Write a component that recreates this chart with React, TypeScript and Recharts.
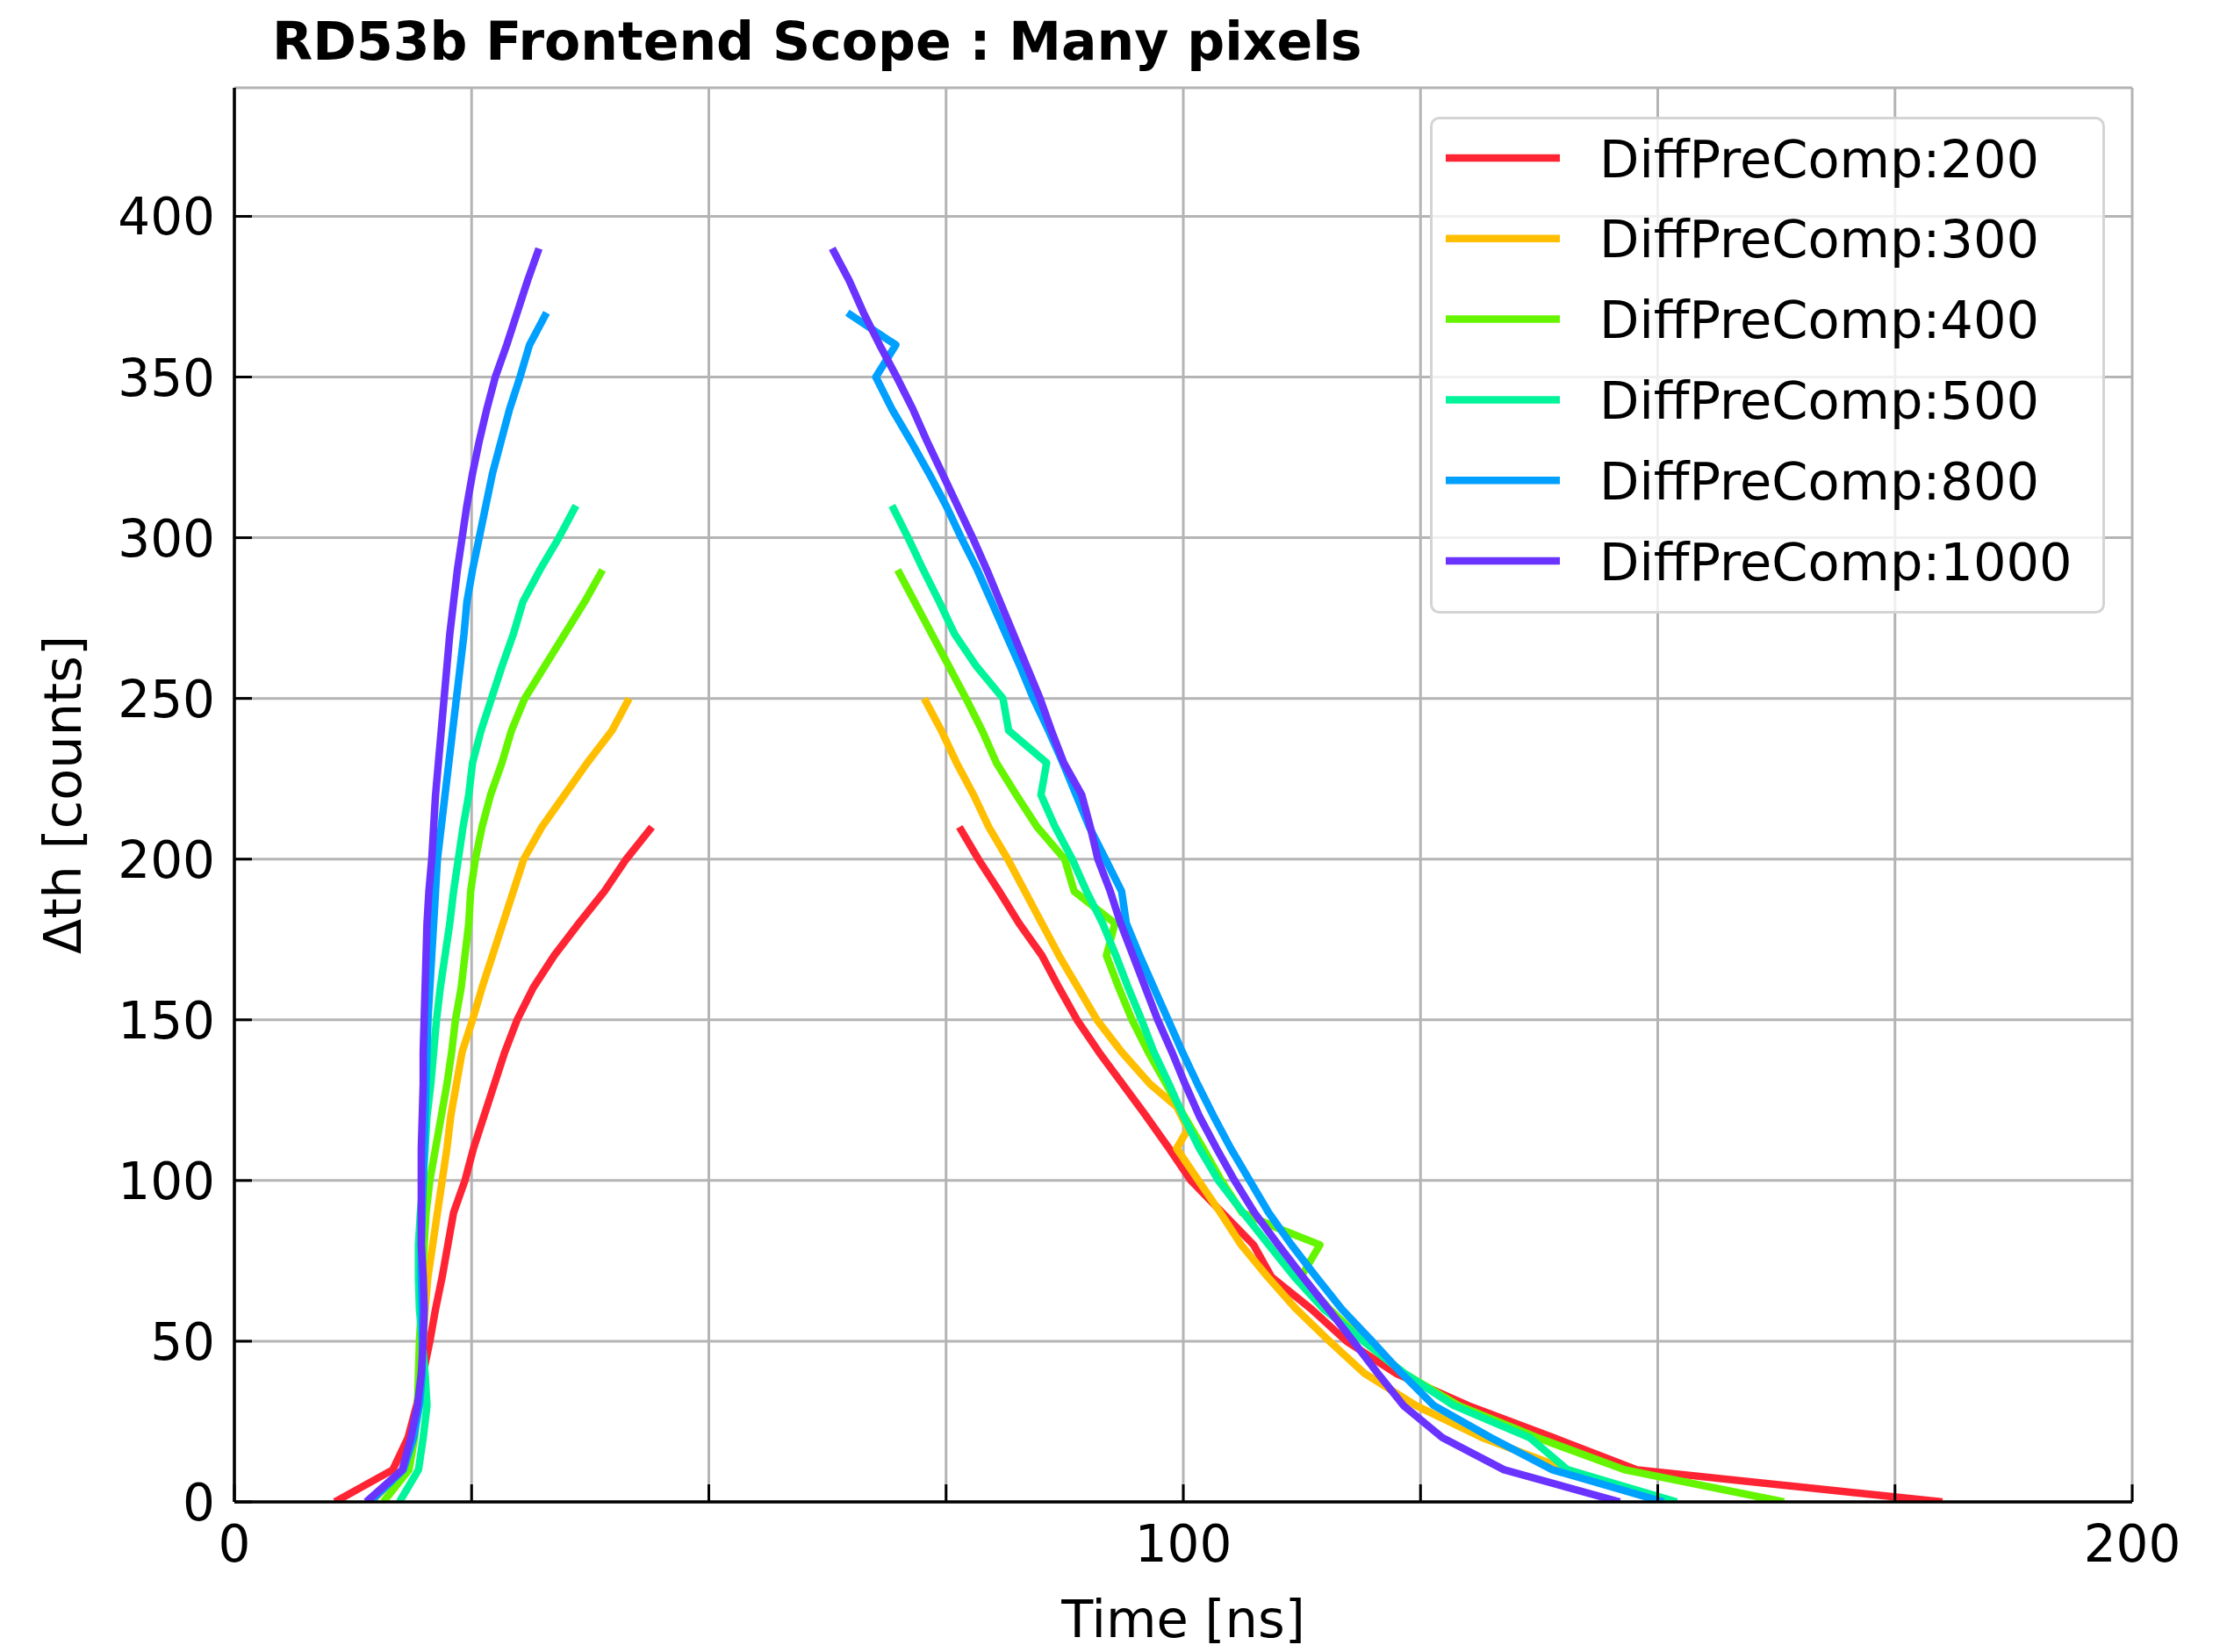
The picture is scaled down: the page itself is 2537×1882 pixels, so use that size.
import React from 'react';
import { LineChart, Line, XAxis, YAxis, CartesianGrid, Legend } from 'recharts';

// ---------- data (time [ns], delta-threshold [counts]) ----------
type Pt = [number, number];

const xTicks = [0, 25, 50, 75, 100, 125, 150, 175, 200];
const xTickLabels = [0, 100, 200];
const yTicks = [0, 50, 100, 150, 200, 250, 300, 350, 400];
const xDomain: [number, number] = [0, 200];
const yDomain: [number, number] = [0, 440];

const seriesNames = [
  'DiffPreComp:200',
  'DiffPreComp:300',
  'DiffPreComp:400',
  'DiffPreComp:500',
  'DiffPreComp:800',
  'DiffPreComp:1000',
];
const seriesColors = ['#ff2433', '#ffbf00', '#66f500', '#00f59a', '#00a0ff', '#6a33ff'];

const rise200: Pt[] = [[10.6,0],[16.7,10],[18.3,20],[19.2,30],[19.9,40],[20.6,50],[21.2,60],[21.9,70],[22.5,80],[23.1,90],[24.3,100],[25.2,110],[26.3,120],[27.4,130],[28.5,140],[29.8,150],[31.5,160],[33.7,170],[36.3,180],[39.0,190],[41.3,200],[44.0,210]];
const fall200: Pt[] = [[76.4,210],[78.4,200],[80.6,190],[82.7,180],[85.1,170],[86.9,160],[88.8,150],[91.1,140],[93.6,130],[96.1,120],[98.5,110],[100.8,100],[104.1,90],[107.4,80],[109.3,70],[113.5,60],[117.2,50],[122.4,40],[130.0,30],[139.0,20],[147.8,10],[180.0,0]];

const rise300: Pt[] = [[14.4,0],[17.8,10],[18.9,20],[19.4,30],[19.7,40],[19.9,50],[20.1,60],[20.4,70],[20.9,80],[21.4,90],[21.9,100],[22.4,110],[22.8,120],[23.4,130],[24.0,140],[25.1,150],[26.1,160],[27.2,170],[28.3,180],[29.4,190],[30.5,200],[32.4,210],[34.8,220],[37.2,230],[39.8,240],[41.6,250]];
const fall300: Pt[] = [[72.7,250],[74.5,240],[76.1,230],[77.9,220],[79.5,210],[81.5,200],[83.3,190],[85.1,180],[86.9,170],[88.9,160],[90.9,150],[93.5,140],[96.5,130],[99.3,123],[100.5,116],[99.3,110],[101.6,100],[103.9,90],[106.1,80],[108.9,70],[111.9,60],[115.4,50],[119.1,40],[124.5,30],[131.5,20],[140.5,10],[151.5,0]];

const rise400: Pt[] = [[15.7,0],[18.4,10],[19.0,20],[19.3,30],[19.4,40],[19.5,50],[19.7,60],[19.8,70],[20.0,80],[20.2,90],[20.6,100],[21.2,110],[21.8,120],[22.4,130],[22.9,140],[23.3,150],[23.9,160],[24.3,170],[24.7,180],[24.9,190],[25.4,200],[26.1,210],[27.0,220],[28.2,230],[29.2,240],[30.6,250],[32.7,260],[34.8,270],[36.9,280],[38.8,290]];
const fall400: Pt[] = [[69.9,290],[71.7,280],[73.5,270],[75.3,260],[77.1,250],[78.8,240],[80.3,230],[82.4,220],[84.6,210],[87.5,200],[88.5,190],[92.8,180],[91.9,170],[93.2,160],[94.6,150],[96.3,140],[98.2,130],[100.1,120],[102.1,110],[104.0,100],[106.2,90],[110.1,85],[114.4,80],[112.4,70],[115.4,60],[119.0,50],[123.3,40],[129.0,30],[137.3,20],[146.5,10],[163.3,0]];

const rise500: Pt[] = [[17.4,0],[19.4,10],[19.9,20],[20.3,30],[20.1,40],[19.8,50],[19.5,60],[19.4,70],[19.4,80],[19.6,90],[19.9,100],[20.1,110],[20.3,120],[20.7,130],[21.0,140],[21.3,150],[21.7,160],[22.2,170],[22.7,180],[23.1,190],[23.6,200],[24.1,210],[24.7,220],[25.1,230],[26.0,240],[27.1,250],[28.2,260],[29.4,270],[30.4,280],[32.2,290],[34.2,300],[36.0,310]];
const fall500: Pt[] = [[69.3,310],[71.0,300],[72.6,290],[74.3,280],[75.9,270],[78.2,260],[81.0,250],[81.6,240],[85.6,230],[85.0,220],[86.5,210],[88.3,200],[89.8,190],[91.5,180],[92.9,170],[94.2,160],[95.6,150],[96.9,140],[98.5,130],[100.0,120],[101.7,110],[103.7,100],[106.3,90],[109.0,80],[111.7,70],[114.8,60],[119.0,50],[123.3,40],[128.5,30],[136.5,20],[140.5,10],[152.0,0]];

const rise800: Pt[] = [[14.3,0],[17.8,10],[18.9,20],[19.5,30],[19.8,40],[19.8,50],[19.8,60],[19.7,70],[19.7,80],[19.8,90],[19.9,100],[20.0,110],[20.1,120],[20.2,130],[20.3,140],[20.4,150],[20.6,160],[20.8,170],[21.0,180],[21.2,190],[21.4,200],[21.8,210],[22.2,220],[22.6,230],[23.0,240],[23.4,250],[23.8,260],[24.2,270],[24.5,280],[25.1,290],[25.8,300],[26.5,310],[27.2,320],[28.1,330],[29.0,340],[30.1,350],[31.1,360],[32.9,370]];
const fall800: Pt[] = [[64.6,370],[69.7,360],[67.6,350],[69.3,340],[71.3,330],[73.2,320],[75.0,310],[76.6,300],[78.3,290],[79.8,280],[81.3,270],[82.8,260],[84.2,250],[85.8,240],[87.3,230],[88.7,220],[90.1,210],[91.8,200],[93.5,190],[94.0,180],[95.4,170],[96.9,160],[98.4,150],[99.9,140],[101.5,130],[103.2,120],[105.0,110],[107.0,100],[109.0,90],[111.4,80],[114.0,70],[116.7,60],[119.9,50],[123.0,40],[126.4,30],[132.4,20],[138.9,10],[150.6,0]];

const rise1000: Pt[] = [[13.9,0],[17.7,10],[18.6,20],[19.3,30],[19.7,40],[19.9,50],[20.0,60],[19.9,70],[19.7,80],[19.7,90],[19.7,100],[19.7,110],[19.8,120],[19.9,130],[19.9,140],[20.0,150],[20.1,160],[20.2,170],[20.3,180],[20.5,190],[20.8,200],[21.0,210],[21.2,220],[21.5,230],[21.8,240],[22.1,250],[22.4,260],[22.7,270],[23.1,280],[23.5,290],[24.0,300],[24.5,310],[25.1,320],[25.8,330],[26.6,340],[27.5,350],[28.7,360],[29.8,370],[30.9,380],[32.1,390]];
const fall1000: Pt[] = [[63.0,390],[64.8,380],[66.3,370],[68.0,360],[69.8,350],[71.5,340],[73.0,330],[74.6,320],[76.2,310],[77.8,300],[79.3,290],[80.7,280],[82.1,270],[83.5,260],[84.9,250],[86.1,240],[87.4,230],[89.3,220],[90.2,210],[91.0,200],[92.3,190],[93.4,180],[94.7,170],[96.0,160],[97.3,150],[98.8,140],[100.2,130],[101.7,120],[103.5,110],[105.4,100],[107.5,90],[110.0,80],[112.6,70],[115.3,60],[117.9,50],[120.5,40],[123.2,30],[127.3,20],[133.8,10],[146.0,0]];

const risingEdges = [rise200, rise300, rise400, rise500, rise800, rise1000];
const fallingEdges = [fall200, fall300, fall400, fall500, fall800, fall1000];

// one line per series; a null point separates the rising and falling edges
const toLine = (rise: Pt[], fall: Pt[]) => [
  ...rise.map(([t, v]) => ({ t, v })),
  { t: (rise[rise.length - 1][0] + fall[0][0]) / 2, v: null as number | null },
  ...fall.map(([t, v]) => ({ t, v })),
];
const lineData = risingEdges.map((r, i) => toLine(r, fallingEdges[i]));

// ---------- layout & style ----------
const W = 2537;
const H = 1882;
const MARGIN = { top: 100, right: 108, bottom: 0, left: 0 };
const Y_AXIS_W = 267;
const X_AXIS_H = 171;
const FONT = '"DejaVu Sans", "Noto Sans", sans-serif';
const TICK_FONT = 58;
const LABEL_FONT = 59;
const TICK_LEN = 20;
const TICK_W = 3;
const SPINE_W = 3.5;
const LINE_W = 8.5;

const BottomTick = (p: any) => {
  const { x, y, payload } = p;
  return (
    <g>
      <line x1={x} x2={x} y1={y} y2={y - TICK_LEN} stroke="#000" strokeWidth={TICK_W} />
      {xTickLabels.includes(payload.value) && (
        <text x={x} y={y + 68} textAnchor="middle" fontSize={TICK_FONT} fontFamily={FONT} fill="#000">
          {payload.value}
        </text>
      )}
    </g>
  );
};

const TopTick = (p: any) => {
  const { x, y } = p;
  return <line x1={x} x2={x} y1={y} y2={y + TICK_LEN} stroke="#000" strokeWidth={TICK_W} />;
};

const LeftTick = (p: any) => {
  const { x, y, payload } = p;
  return (
    <g>
      <line x1={x} x2={x + TICK_LEN} y1={y} y2={y} stroke="#000" strokeWidth={TICK_W} />
      <text x={x - 22} y={y + 21} textAnchor="end" fontSize={TICK_FONT} fontFamily={FONT} fill="#000">
        {payload.value}
      </text>
    </g>
  );
};

const RightTick = (p: any) => {
  const { x, y } = p;
  return <line x1={x} x2={x - TICK_LEN} y1={y} y2={y} stroke="#000" strokeWidth={TICK_W} />;
};

const LEGEND_BOX = { left: 1629, top: 133, width: 769, height: 566 };

const LegendContent = (props: any) => {
  const payload = [...(props.payload || [])].sort(
    (a: any, b: any) => seriesNames.indexOf(a.value) - seriesNames.indexOf(b.value)
  );
  return (
    <svg width={LEGEND_BOX.width} height={LEGEND_BOX.height} style={{ display: 'block', overflow: 'visible' }}>
      <rect
        x={1.5}
        y={1.5}
        width={LEGEND_BOX.width - 3}
        height={LEGEND_BOX.height - 3}
        rx={9}
        ry={9}
        fill="rgba(255,255,255,0.8)"
        stroke="#d4d4d4"
        strokeWidth={3}
      />
      {payload.map((e: any, i: number) => {
        const cy = 47 + i * 91.8;
        return (
          <g key={i}>
            <line x1={18} x2={148} y1={cy} y2={cy} stroke={e.color} strokeWidth={LINE_W} />
            <text x={193} y={cy + 21.5} fontSize={LABEL_FONT} fontFamily={FONT} fill="#000">
              {e.value}
            </text>
          </g>
        );
      })}
    </svg>
  );
};

export default function App() {
  return (
    <div style={{ position: 'absolute', left: 0, top: 0, width: W, height: H, background: '#fff' }}>
      <LineChart width={W} height={H} margin={MARGIN}>
        <CartesianGrid stroke="#b4b4b4" strokeWidth={3} />
        <XAxis
          dataKey="t"
          type="number"
          domain={xDomain}
          ticks={xTicks}
          interval={0}
          allowDataOverflow
          height={X_AXIS_H}
          tickSize={0}
          tickMargin={0}
          tickLine={false}
          axisLine={{ stroke: '#000', strokeWidth: SPINE_W }}
          tick={BottomTick}
          label={{
            value: 'Time [ns]',
            position: 'insideBottom',
            offset: 17,
            fontSize: LABEL_FONT,
            fontFamily: FONT,
            fill: '#000',
          }}
        />
        <XAxis
          xAxisId="top"
          orientation="top"
          dataKey="t"
          type="number"
          domain={xDomain}
          ticks={xTicks}
          interval={0}
          allowDataOverflow
          height={0}
          tickSize={0}
          tickMargin={0}
          tickLine={false}
          axisLine={{ stroke: '#000', strokeWidth: SPINE_W }}
          tick={TopTick}
        />
        <YAxis
          type="number"
          domain={yDomain}
          ticks={yTicks}
          interval={0}
          allowDataOverflow
          width={Y_AXIS_W}
          tickSize={0}
          tickMargin={0}
          tickLine={false}
          axisLine={{ stroke: '#000', strokeWidth: SPINE_W }}
          tick={LeftTick}
          label={{
            value: 'Δth [counts]',
            angle: -90,
            position: 'insideLeft',
            offset: 71,
            fontSize: LABEL_FONT,
            fontFamily: FONT,
            fill: '#000',
            style: { textAnchor: 'middle' },
          }}
        />
        <YAxis
          yAxisId="right"
          orientation="right"
          type="number"
          domain={yDomain}
          ticks={yTicks}
          interval={0}
          allowDataOverflow
          width={0}
          tickSize={0}
          tickMargin={0}
          tickLine={false}
          axisLine={{ stroke: '#000', strokeWidth: SPINE_W }}
          tick={RightTick}
        />
        {lineData.map((d, i) => (
          <Line
            key={seriesNames[i]}
            name={seriesNames[i]}
            data={d}
            dataKey="v"
            type="linear"
            stroke={seriesColors[i]}
            strokeWidth={LINE_W}
            strokeLinejoin="round"
            dot={false}
            activeDot={false}
            connectNulls={false}
            isAnimationActive={false}
          />
        ))}
        <Legend
          layout="horizontal"
          verticalAlign="middle"
          align="center"
          content={LegendContent}
          wrapperStyle={{
            left: LEGEND_BOX.left,
            top: LEGEND_BOX.top,
            width: LEGEND_BOX.width,
            height: LEGEND_BOX.height,
          }}
        />
      </LineChart>
      <svg
        width={W}
        height={120}
        style={{ position: 'absolute', left: 0, top: 0, pointerEvents: 'none' }}
      >
        <text x={310} y={68} fontSize={60} fontWeight="bold" fontFamily={FONT} fill="#000">
          RD53b Frontend Scope : Many pixels
        </text>
      </svg>
    </div>
  );
}
